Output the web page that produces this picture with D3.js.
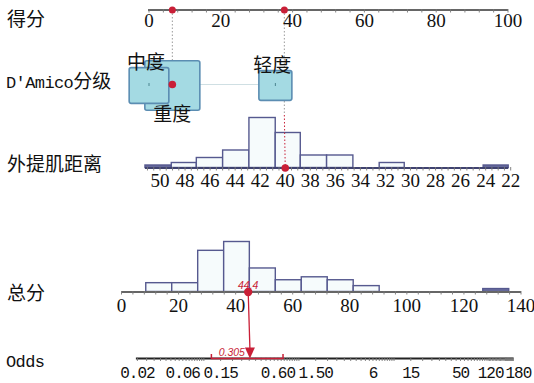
<!DOCTYPE html>
<html>
<head>
<meta charset="utf-8">
<script src="https://cdn.jsdelivr.net/npm/d3@7"></script>
<style>
  body { margin: 0; background: #fff; }
  svg { display: block; }
</style>
</head>
<body>
<svg id="chart"></svg>
<script>
// points row
const pointTicks = [0, 20, 40, 60, 80, 100];
const patientPoints = [6.5, 37.7];      // D'Amico = 重度, distance = 40

// D'Amico category row
const damicoCats = ['中度', '重度', '轻度'];
const damicoPoints = [0, 6.5, 35.2];
const damicoCounts = [26, 50, 18];
const damicoLabelSide = ['above', 'below', 'above'];
const damicoDrawOrder = ['重度', '中度', '轻度'];
const patientDamico = '重度';

// 外提肌距离 row
const distTicks = [50, 48, 46, 44, 42, 40, 38, 36, 34, 32, 30, 28, 26, 24, 22];
const distBinEdges = [51.2, 49.1, 47.1, 45.0, 42.9, 40.8, 38.8, 36.7, 34.6, 32.5, 30.5, 28.4, 26.3, 24.2, 22.2];
const distCounts = [1, 2, 4, 7, 20, 14, 5, 5, 0, 2, 0, 0, 0, 1];
const patientDist = 40;

// 总分 row
const totalTicks = [0, 20, 40, 60, 80, 100, 120, 140];
const totalBinEdges = [8.5, 17.6, 26.7, 35.8, 44.8, 53.9, 63.0, 72.1, 81.2, 90.3, 99.4, 108.5, 117.5, 126.6, 135.7];
const totalCounts = [3, 3, 14, 17, 8, 4, 5, 4, 2, 0, 0, 0, 0, 1];
const patientTotal = 44.4;

// Odds row
const oddsTicks = [0.02, 0.06, 0.15, 0.6, 1.5, 6, 15, 50, 120, 180];
const oddsLabels = ['0.02', '0.06', '0.15', '0.60', '1.50', '6', '15', '50', '120', '180'];
const patientOdds = 0.305;
const oddsCI = [0.12, 0.68];

class Nomogram {

  constructor(_config) {
    this.config = {
      parentElement: _config.parentElement,
      containerWidth: _config.containerWidth || 534,
      containerHeight: _config.containerHeight || 383,
      rows: { points: 10, damico: 85.5, dist: 168, total: 292, odds: 358.5 }
    };
    this.red = '#c91f37';
    this.initVis();
  }

  initVis() {
    let vis = this;

    vis.svg = d3.select(vis.config.parentElement)
        .attr('width', vis.config.containerWidth)
        .attr('height', vis.config.containerHeight);

    vis.xPoints = d3.scaleLinear().domain([0, 100]).range([149, 508]);
    vis.xDist = d3.scaleLinear().domain([50, 22]).range([160, 510.7]);
    vis.xTotal = d3.scaleLinear().domain([0, 140]).range([121.5, 521]);
    vis.xOdds = d3.scaleLog().domain([0.02, 180]).range([137.4, 513.4]);

    vis.yDist = d3.scaleLinear().domain([0, 20]).range([0, 50]);
    vis.yTotal = d3.scaleLinear().domain([0, 17]).range([0, 50]);
    vis.boxSize = d3.scaleSqrt().domain([0, 50]).range([0, 55]);

    vis.renderVis();
  }

  // histogram of bins sitting on a baseline
  histogram(edges, counts, xScale, yScale, y0) {
    let vis = this;
    let bins = counts.map((c, i) => ({ a: edges[i], b: edges[i + 1], c: c })).filter(d => d.c > 0);
    vis.svg.append('g').selectAll('rect')
      .data(bins)
      .join('rect')
        .attr('x', d => Math.min(xScale(d.a), xScale(d.b)))
        .attr('width', d => Math.abs(xScale(d.b) - xScale(d.a)))
        .attr('y', d => y0 - yScale(d.c))
        .attr('height', d => yScale(d.c))
        .attr('fill', d => yScale(d.c) < 4 ? '#6a6d9e' : '#f6fbfc')
        .attr('stroke', '#56598f')
        .attr('stroke-width', 1.4);
  }

  axisRow(scale, y, x0, x1, minor, ticks, labels, labelY, font, lineColor) {
    let vis = this;
    let g = vis.svg.append('g');
    g.append('line')
      .attr('x1', x0).attr('x2', x1)
      .attr('y1', y).attr('y2', y)
      .attr('stroke', lineColor).attr('stroke-width', 1.8);
    g.selectAll('.minor')
      .data(minor)
      .join('line')
        .attr('x1', d => scale(d)).attr('x2', d => scale(d))
        .attr('y1', y - 1).attr('y2', y + 2.5)
        .attr('stroke', '#777').attr('stroke-width', 0.9);
    g.selectAll('text')
      .data(ticks)
      .join('text')
        .attr('x', d => scale(d))
        .attr('y', labelY)
        .attr('text-anchor', 'middle')
        .style('font-family', font.family)
        .style('font-size', font.size)
        .style('letter-spacing', font.spacing || '0px')
        .attr('fill', '#111')
        .text((d, i) => labels ? labels[i] : d);
    return g;
  }

  renderVis() {
    let vis = this;
    const R = vis.config.rows;
    const serif = { family: '"Liberation Serif", "Times New Roman", serif', size: '19px' };
    const mono = { family: '"Liberation Mono", monospace', size: '16px', spacing: '-1px' };
    const cjk = '"Noto Sans CJK SC", sans-serif';

    // histograms first so axes sit on top
    vis.histogram(distBinEdges, distCounts, vis.xDist, vis.yDist, R.dist - 0.5);
    vis.histogram(totalBinEdges, totalCounts, vis.xTotal, vis.yTotal, R.total - 0.5);

    // points axis
    vis.axisRow(vis.xPoints, R.points, vis.xPoints(0) - 1, vis.xPoints(100),
      d3.range(0, 100.1, 4), pointTicks, null, 26.5, serif, '#666');

    // distance axis
    vis.axisRow(vis.xDist, R.dist, vis.xDist(distBinEdges[0]), vis.xDist(distBinEdges[distBinEdges.length - 1]),
      d3.range(22, 51.1, 0.5), distTicks, null, 187, serif, '#3f4270');

    // total axis
    vis.axisRow(vis.xTotal, R.total, vis.xTotal(0), vis.xTotal(140),
      d3.range(0, 140.1, 4), totalTicks, null, 312, serif, '#666');

    // odds axis, dense minor ticks
    let oddsMinor = [];
    [0.01, 0.1, 1, 10, 100].forEach(p => d3.range(1, 10, 0.5).forEach(m => {
      let v = p * m;
      if (v >= 0.02 && v <= 180) oddsMinor.push(v);
    }));
    d3.range(100, 181, 4).forEach(v => oddsMinor.push(v));
    let og = vis.axisRow(vis.xOdds, R.odds, vis.xOdds(0.02) - 1.5, vis.xOdds(180), oddsMinor,
      oddsTicks, oddsLabels, 377.5, mono, '#222');
    // crowded right end: push the two last labels apart
    og.selectAll('text').attr('dx', d => d === 120 ? -6 : d === 180 ? 5 : 0);

    // left row titles
    const titles = [
      { t: '得分', y: 26 },
      { t: '外提肌距离', y: 171 },
      { t: '总分', y: 300 }
    ];
    titles.forEach(d => {
      vis.svg.append('text').attr('x', 7).attr('y', d.y)
        .style('font-family', cjk).style('font-size', '19px').attr('fill', '#111')
        .text(d.t);
    });
    let dam = vis.svg.append('text').attr('x', 6).attr('y', 88).attr('fill', '#111');
    dam.append('tspan').style('font-family', mono.family).style('font-size', '17px')
      .style('letter-spacing', '-0.6px').text("D'Amico");
    dam.append('tspan').style('font-family', cjk).style('font-size', '19px').text('分级');
    vis.svg.append('text').attr('x', 6).attr('y', 367).attr('fill', '#111')
      .style('font-family', mono.family).style('font-size', '17px')
      .style('letter-spacing', '-0.6px').text('Odds');

    // dotted guide lines from the points axis
    const dotX1 = vis.xPoints(patientPoints[0]);
    const dotX2 = vis.xPoints(patientPoints[1]);
    vis.svg.append('line')
      .attr('x1', dotX1).attr('x2', dotX1).attr('y1', R.points).attr('y2', R.damico)
      .attr('stroke', '#9a9a9a').attr('stroke-width', 1).attr('stroke-dasharray', '1.5,2');
    vis.svg.append('line')
      .attr('x1', dotX2).attr('x2', dotX2).attr('y1', R.points).attr('y2', 115)
      .attr('stroke', '#9a9a9a').attr('stroke-width', 1).attr('stroke-dasharray', '1.5,2');
    vis.svg.append('line')
      .attr('x1', dotX2).attr('x2', vis.xDist(patientDist)).attr('y1', 115).attr('y2', R.dist)
      .attr('stroke', vis.red).attr('stroke-width', 1).attr('stroke-dasharray', '1.5,2');

    // D'Amico boxes
    let cats = damicoCats.map((c, i) => ({
      cat: c, pts: damicoPoints[i], n: damicoCounts[i], side: damicoLabelSide[i]
    }));
    let ext = d3.extent(cats, d => d.pts);
    vis.svg.append('line')
      .attr('x1', vis.xPoints(ext[0])).attr('x2', vis.xPoints(ext[1]))
      .attr('y1', R.damico - 1).attr('y2', R.damico - 1)
      .attr('stroke', '#cfdfe3').attr('stroke-width', 1.2);
    let ordered = damicoDrawOrder.map(c => cats.find(d => d.cat === c));
    let bx = vis.svg.append('g').selectAll('g')
      .data(ordered)
      .join('g');
    bx.append('rect')
      .attr('x', d => vis.xPoints(d.pts) - vis.boxSize(d.n) / 2)
      .attr('y', d => R.damico - vis.boxSize(d.n) * 0.9 / 2)
      .attr('width', d => vis.boxSize(d.n))
      .attr('height', d => vis.boxSize(d.n) * 0.9)
      .attr('rx', 2)
      .attr('fill', '#a4dae3')
      .attr('stroke', '#5b8db2')
      .attr('stroke-width', 1.6);
    bx.append('line')
      .attr('x1', d => vis.xPoints(d.pts)).attr('x2', d => vis.xPoints(d.pts))
      .attr('y1', R.damico - 2.5).attr('y2', R.damico + 0.5)
      .attr('stroke', '#4a8590').attr('stroke-width', 1);
    bx.append('text')
      .attr('x', d => vis.xPoints(d.pts) - (d.side === 'above' ? 3 : 0))
      .attr('y', d => d.side === 'above'
        ? R.damico - vis.boxSize(d.n) * 0.45 + 1.5
        : R.damico + vis.boxSize(d.n) * 0.45 + 11)
      .attr('text-anchor', 'middle')
      .style('font-family', cjk).style('font-size', '19px').attr('fill', '#111')
      .text(d => d.cat);

    // red path: total -> odds
    const tx = vis.xTotal(patientTotal);
    const ox = vis.xOdds(patientOdds);
    vis.svg.append('line')
      .attr('x1', tx).attr('x2', ox).attr('y1', R.total).attr('y2', R.odds - 10)
      .attr('stroke', vis.red).attr('stroke-width', 1.3);
    // CI bracket
    const ciL = vis.xOdds(oddsCI[0]), ciR = vis.xOdds(oddsCI[1]);
    vis.svg.append('path')
      .attr('d', `M${ciL},${R.odds - 4.5}V${R.odds}H${ciR}V${R.odds - 4.5}`)
      .attr('fill', 'none').attr('stroke', vis.red).attr('stroke-width', 1.5);
    vis.svg.append('path')
      .attr('d', `M${ox - 5},${R.odds - 11}L${ox + 5},${R.odds - 11}L${ox},${R.odds}Z`)
      .attr('fill', vis.red);
    vis.svg.append('text')
      .attr('x', ox - 5).attr('y', R.odds - 2.5)
      .attr('text-anchor', 'end')
      .style('font-family', '"Liberation Sans", sans-serif').style('font-size', '10.5px')
      .style('font-style', 'italic').attr('fill', vis.red)
      .text(patientOdds);
    vis.svg.append('text')
      .attr('x', tx).attr('y', R.total - 3.5)
      .attr('text-anchor', 'middle')
      .style('font-family', '"Liberation Sans", sans-serif').style('font-size', '10.5px')
      .style('font-style', 'italic').attr('fill', vis.red)
      .text(patientTotal);

    // red dots
    let dots = [
      { x: dotX1, y: R.points, r: 3.5 },
      { x: dotX2, y: R.points, r: 3.5 },
      { x: vis.xPoints(damicoPoints[damicoCats.indexOf(patientDamico)]), y: R.damico - 1, r: 3.8 },
      { x: vis.xDist(patientDist), y: R.dist, r: 3.8 },
      { x: tx, y: R.total, r: 4.2 }
    ];
    vis.svg.append('g').selectAll('circle')
      .data(dots)
      .join('circle')
        .attr('cx', d => d.x).attr('cy', d => d.y).attr('r', d => d.r)
        .attr('fill', vis.red);
  }
}

let nomogram = new Nomogram({ parentElement: '#chart' });
</script>
</body>
</html>
